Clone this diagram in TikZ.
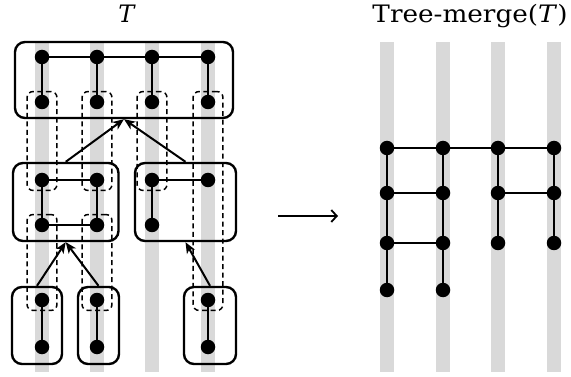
\documentclass[tikz,border=0pt]{standalone}
\usepackage{fontspec}
\setmainfont{DejaVu Serif}
\usetikzlibrary{arrows.meta,fit}
\definecolor{stripe}{RGB}{217,217,217}
\begin{document}
\begin{tikzpicture}[x=1pt,y=-1pt,
  dot/.style={circle,fill=black,inner sep=0pt,minimum size=14.5pt},
  edge/.style={line width=2.6pt},
  grp/.style={draw,line width=2.4pt,rounded corners=10pt,inner sep=0pt},
  dbox/.style={draw,line width=1.5pt,dash pattern=on 5pt off 3.5pt,rounded corners=6pt,inner xsep=7.5pt,inner ysep=3pt},
  arr/.style={line width=2pt,-{Stealth[length=11pt,width=9pt,inset=3pt]}},
  bigarr/.style={line width=1.8pt,-{Straight Barb[length=5.5pt,width=12pt]}},
  ttl/.style={anchor=base,inner sep=0pt,font=\fontsize{24}{26}\selectfont}]
\useasboundingbox (0,0) rectangle (571,377);
% stripes
\foreach \x in {42,97,152,208,387,443,498,554}
  \fill[stripe] (\x-6.8,42) rectangle (\x+6.8,372);
% titles
\node[ttl] (tl) at (127,23) {\textit{T}};
\node[ttl] (tr) at (470,23) {\resizebox{195pt}{\height}{Tree-merge(\textit{T})}};
% left dots
\node[dot] (a1) at (42,57) {};
\node[dot] (a2) at (97,57) {};
\node[dot] (a3) at (152,57) {};
\node[dot] (a4) at (208,57) {};
\node[dot] (b1) at (42,102) {};
\node[dot] (b2) at (97,102) {};
\node[dot] (b3) at (152,102) {};
\node[dot] (b4) at (208,102) {};
\node[dot] (c1) at (42,180) {};
\node[dot] (c2) at (97,180) {};
\node[dot] (c3) at (152,180) {};
\node[dot] (c4) at (208,180) {};
\node[dot] (d1) at (42,225) {};
\node[dot] (d2) at (97,225) {};
\node[dot] (d3) at (152,225) {};
\node[dot] (e1) at (42,300) {};
\node[dot] (e2) at (97,300) {};
\node[dot] (e4) at (208,300) {};
\node[dot] (f1) at (42,347) {};
\node[dot] (f2) at (97,347) {};
\node[dot] (f4) at (208,347) {};
% dashed identification boxes
\node[dbox,fit=(b1)(c1)] (k1) {};
\node[dbox,fit=(b2)(c2)] (k2) {};
\node[dbox,fit=(b3)(c3)] (k3) {};
\node[dbox,fit=(b4)(e4)] (k4) {};
\node[dbox,fit=(d1)(e1)] (k5) {};
\node[dbox,fit=(d2)(e2)] (k6) {};
% left edges
\draw[edge] (a1) -- (a2) -- (a3) -- (a4);
\draw[edge] (a1) -- (b1);
\draw[edge] (a2) -- (b2);
\draw[edge] (a3) -- (b3);
\draw[edge] (a4) -- (b4);
\draw[edge] (c1) -- (c2) -- (d2) -- (d1) -- (c1);
\draw[edge] (c3) -- (c4);
\draw[edge] (c3) -- (d3);
\draw[edge] (e1) -- (f1);
\draw[edge] (e2) -- (f2);
\draw[edge] (e4) -- (f4);
% group boxes
\node[grp,minimum width=218pt,minimum height=76pt] (G0) at (124,80) {};
\node[grp,minimum width=105.5pt,minimum height=78pt] (G1) at (65.75,202) {};
\node[grp,minimum width=101pt,minimum height=78pt] (G2) at (185.5,202) {};
\node[grp,minimum width=50pt,minimum height=77pt] (G3) at (37,325.5) {};
\node[grp,minimum width=41pt,minimum height=77pt] (G4) at (98.5,325.5) {};
\node[grp,minimum width=52pt,minimum height=77pt] (G5) at (210,325.5) {};
% arrows
\draw[arr] (G1.north) -- (G0.south);
\draw[arr] (G2.north) -- (G0.south);
\draw[arr] (G3.north) -- (G1.south);
\draw[arr] (G4.north) -- (G1.south);
\draw[arr] (G5.north) -- (G2.south);
% big arrow
\coordinate (s) at (278,216);
\coordinate (t) at (338,216);
\draw[bigarr] (s) -- (t);
% right dots
\foreach \c/\x in {1/387,2/443} {
  \foreach \r/\y in {1/148,2/193,3/243,4/290}
    \node[dot] (r\c\r) at (\x,\y) {};
}
\foreach \c/\x in {3/498,4/554} {
  \foreach \r/\y in {1/148,2/193,3/243}
    \node[dot] (r\c\r) at (\x,\y) {};
}
\draw[edge] (r11) -- (r21) -- (r31) -- (r41);
\draw[edge] (r11) -- (r12) -- (r13) -- (r14);
\draw[edge] (r21) -- (r22) -- (r23) -- (r24);
\draw[edge] (r31) -- (r32) -- (r33);
\draw[edge] (r41) -- (r42) -- (r43);
\draw[edge] (r12) -- (r22);
\draw[edge] (r13) -- (r23);
\draw[edge] (r32) -- (r42);
\end{tikzpicture}
\end{document}
